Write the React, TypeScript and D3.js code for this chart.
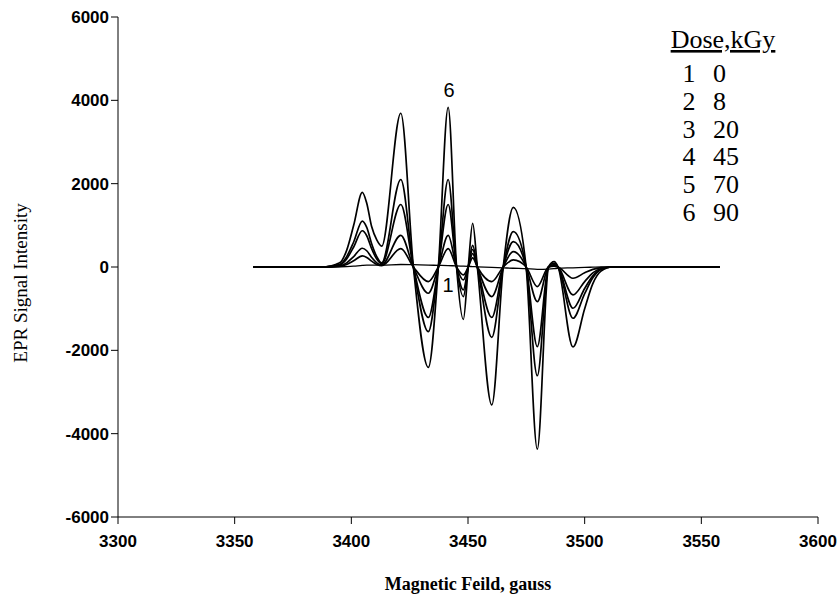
import React from "react";
import * as d3 from "d3";

// Magnetic field key positions (gauss)
const fieldGauss = [
  3358, 3388, 3395, 3398, 3401, 3404.7, 3406.6, 3408.7, 3410.9, 3413,
  3421.2, 3426.6, 3433, 3437.3, 3441.5, 3445.1, 3448, 3450.1, 3452, 3454,
  3460.2, 3465.1, 3469.4, 3474.9, 3479.7, 3484.5, 3486.9, 3488.6, 3495,
  3500, 3503.5, 3507, 3512, 3558,
];

// EPR signal intensity for each dose (same positions as fieldGauss)
const dose0 = [
  0, 0, 5, 10, 20, 40, 45, 45, 45, 45,
  60, 55, 45, 40, 35, 25, 20, 15, 10, 5,
  -10, -20, -30, -40, -55, -50, -40, -30, -20,
  -10, -5, 0, 0, 0,
];
const dose8 = [
  0, 0, 15, 60, 150, 265, 230, 140, 60, 30,
  440, 0, -350, 0, 440, 0, -190, 0, 220, 0,
  -350, 0, 170, 0, -470, 0, 20, 0, -270,
  -140, -57, -14, 0, 0,
];
const dose20 = [
  0, 0, 25, 100, 250, 450, 390, 230, 100, 50,
  760, 0, -630, 0, 760, 0, -310, 0, 320, 0,
  -710, 0, 370, 0, -830, 0, 40, 0, -670,
  -350, -140, -35, 0, 0,
];
const dose45 = [
  0, 0, 50, 195, 480, 870, 750, 440, 190, 80,
  1500, 0, -1210, 0, 1500, 0, -550, 0, 420, 0,
  -1210, 0, 610, 0, -1910, 0, 60, 0, -990,
  -515, -210, -50, 0, 0,
];
const dose70 = [
  0, 0, 60, 250, 600, 1100, 950, 560, 250, 100,
  2100, 0, -1550, 0, 2100, 0, -710, 0, 520, 0,
  -1690, 0, 850, 0, -2610, 0, 90, 0, -1230,
  -640, -260, -60, 0, 0,
];
const dose90 = [
  0, 0, 100, 400, 1000, 1790, 1530, 970, 650, 500,
  3690, 0, -2410, 0, 3830, 0, -1260, 0, 1050, 0,
  -3310, 0, 1430, 0, -4370, 0, 130, 0, -1920,
  -1000, -400, -100, 0, 0,
];

const seriesList = [dose0, dose8, dose20, dose45, dose70, dose90];
const legendNumbers = ["1", "2", "3", "4", "5", "6"];
const legendDoses = ["0", "8", "20", "45", "70", "90"];

const xTicks = [3300, 3350, 3400, 3450, 3500, 3550, 3600];
const yTicks = [-6000, -4000, -2000, 0, 2000, 4000, 6000];

export default function App() {
  const W = 837;
  const H = 601;
  const left = 118;
  const right = 818;
  const top = 17;
  const bottom = 517;

  const x = d3.scaleLinear().domain([3300, 3600]).range([left, right]);
  const y = d3.scaleLinear().domain([-6000, 6000]).range([bottom, top]);

  const line = d3
    .line<[number, number]>()
    .x((d) => x(d[0]))
    .y((d) => y(d[1]))
    .curve(d3.curveMonotoneX);

  const tickFont = "'Liberation Sans', Arial, sans-serif";
  const serif = "'Liberation Serif', 'Times New Roman', serif";

  return (
    <svg
      width={W}
      height={H}
      style={{ position: "absolute", left: 0, top: 0, background: "#fff" }}
    >
      <rect x={0} y={0} width={W} height={H} fill="#fff" />
      {/* curves */}
      {seriesList.map((vals, i) => (
        <path
          key={i}
          d={line(fieldGauss.map((g, j) => [g, vals[j]] as [number, number])) || ""}
          fill="none"
          stroke="#000"
          strokeWidth={i === 0 ? 1.3 : 1.7}
          strokeLinejoin="round"
        />
      ))}

      {/* axes */}
      <line x1={left} x2={left} y1={top} y2={bottom} stroke="#000" strokeWidth={1} />
      <line x1={left} x2={right} y1={bottom} y2={bottom} stroke="#000" strokeWidth={1} />
      {yTicks.map((t) => (
        <g key={"y" + t}>
          <line x1={left - 7} x2={left} y1={y(t)} y2={y(t)} stroke="#000" />
          <text
            x={left - 9}
            y={y(t)}
            dy="0.36em"
            textAnchor="end"
            fontFamily={tickFont}
            fontWeight="bold"
            fontSize={17}
          >
            {t}
          </text>
        </g>
      ))}
      {xTicks.map((t) => (
        <g key={"x" + t}>
          <line x1={x(t)} x2={x(t)} y1={bottom} y2={bottom + 7} stroke="#000" />
          <text
            x={x(t)}
            y={547}
            textAnchor="middle"
            fontFamily={tickFont}
            fontWeight="bold"
            fontSize={17}
          >
            {t}
          </text>
        </g>
      ))}

      {/* axis titles */}
      <text
        transform={`translate(27, 283) rotate(-90)`}
        textAnchor="middle"
        fontFamily={serif}
        fontSize={19}
      >
        EPR Signal Intensity
      </text>
      <text
        x={468}
        y={590}
        textAnchor="middle"
        fontFamily={serif}
        fontWeight="bold"
        fontSize={18}
      >
        Magnetic Feild, gauss
      </text>

      {/* curve labels */}
      <text x={449} y={97} textAnchor="middle" fontFamily={tickFont} fontSize={20}>
        6
      </text>
      <text x={448} y={292} textAnchor="middle" fontFamily={tickFont} fontSize={20}>
        1
      </text>

      {/* legend */}
      <text
        x={723}
        y={48}
        textAnchor="middle"
        fontFamily={serif}
        fontSize={26}
        textDecoration="underline"
      >
        Dose,kGy
      </text>
      {legendNumbers.map((n, i) => (
        <g key={"lg" + n}>
          <text
            x={689}
            y={82 + i * 27.8}
            textAnchor="middle"
            fontFamily={serif}
            fontSize={26}
          >
            {n}
          </text>
          <text x={713} y={82 + i * 27.8} fontFamily={serif} fontSize={26}>
            {legendDoses[i]}
          </text>
        </g>
      ))}
    </svg>
  );
}
